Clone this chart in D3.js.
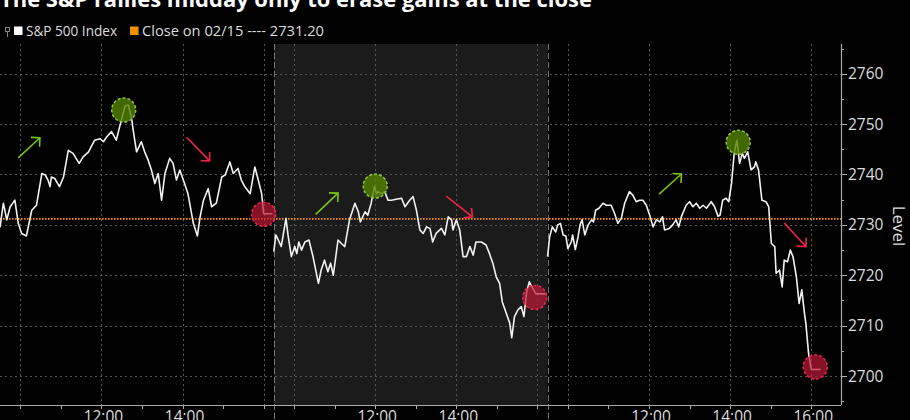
<!DOCTYPE html>
<html>
<head>
<meta charset="utf-8">
<script src="https://cdn.jsdelivr.net/npm/d3@7"></script>
<style>
  html, body { margin: 0; padding: 0; background: #000; }
  svg { display: block; }
  text { font-family: "Open Sans", "DejaVu Sans", sans-serif; }
</style>
</head>
<body>
<div id="chart"></div>
<script>
// ---------------- DATA ----------------
const title = "The S&P rallies midday only to erase gains at the close";
const legendLabels = ["S&P 500 Index", "Close on 02/15 ---- 2731.20"];
const prevClose = 2731.20;

// minutes since 09:30 open, for each trading session
const day1Minutes = [0,5,10,15,22,27,32,39,47,54,62,67,71,74,76,81,88,94,101,108,117,123,131,140,148,153,158,165,172,177,185,190,195,197,202,209,214,219,224,229,234,239,244,251,256,261,266,273,278,286,292,296,301,308,313,320,328,333,340,345,352,357,362,370,377,382,387,390,403];
const day1Values  = [2729.5,2734.3,2731.0,2733.6,2734.9,2730.3,2728.3,2727.8,2732.9,2733.9,2740.2,2739.9,2738.9,2737.6,2739.5,2739.2,2737.6,2739.5,2744.8,2744.2,2742.2,2743.5,2744.5,2746.8,2747.1,2746.5,2747.5,2748.5,2746.8,2749.5,2753.6,2753.8,2750.8,2748.8,2744.5,2746.5,2744.5,2742.9,2740.9,2738.2,2740.2,2734.9,2740.2,2743.2,2742.2,2738.9,2740.9,2738.2,2736.2,2730.3,2727.8,2731.6,2734.9,2737.2,2733.6,2734.3,2739.5,2739.9,2742.5,2740.2,2741.2,2738.9,2737.6,2736.2,2741.5,2738.9,2736.2,2732.2,2732.2];

const day2Minutes = [0,3,8,11,18,21,26,31,34,37,41,46,52,58,66,70,75,80,84,88,95,100,105,112,120,125,128,135,139,144,149,152,154,159,164,169,174,181,189,194,201,206,211,216,221,226,231,235,240,248,253,258,263,265,270,275,280,285,290,295,299,307,314,319,324,329,334,338,344,349,352,356,361,366,370,374,378,383,388,390,402];
const day2Values  = [2724.7,2728.0,2726.6,2725.7,2731.3,2728.0,2723.7,2725.7,2724.3,2726.6,2725.0,2726.6,2727.0,2723.7,2718.4,2721.0,2723.0,2720.7,2722.4,2720.0,2727.0,2726.3,2725.7,2731.0,2734.3,2732.6,2730.6,2732.6,2731.9,2734.3,2737.6,2736.2,2736.6,2736.2,2736.6,2734.9,2734.9,2735.1,2735.3,2733.6,2734.9,2735.6,2732.9,2729.0,2728.3,2729.6,2729.3,2726.6,2728.3,2729.3,2728.0,2731.6,2731.0,2729.0,2731.0,2729.0,2723.7,2723.7,2725.7,2724.0,2726.6,2726.6,2726.0,2724.3,2722.4,2719.7,2718.4,2714.7,2712.4,2710.5,2707.6,2711.8,2713.1,2713.8,2711.8,2716.7,2718.7,2717.4,2716.3,2716.3,2716.3];

const day3Minutes = [0,3,7,12,15,19,23,27,30,35,37,41,45,48,51,55,60,65,68,71,76,82,87,94,99,104,109,114,121,126,131,136,141,146,151,156,161,166,170,173,180,185,190,194,198,205,210,215,220,225,230,235,242,247,252,255,259,264,268,272,276,280,284,288,291,296,301,306,308,312,317,323,327,331,336,338,343,347,350,355,359,363,368,372,376,380,382,386,390,404];
const day3Values  = [2723.7,2727.6,2729.6,2728.6,2730.0,2730.3,2728.0,2727.8,2725.3,2726.6,2728.0,2725.1,2727.6,2730.0,2731.0,2728.0,2730.0,2731.0,2730.6,2732.9,2733.3,2734.3,2733.9,2733.9,2732.3,2730.3,2731.3,2734.3,2736.6,2735.9,2734.6,2734.9,2734.9,2733.9,2731.9,2729.6,2731.0,2730.6,2731.6,2729.0,2729.3,2730.0,2731.0,2729.6,2731.7,2733.9,2734.6,2733.6,2734.3,2733.3,2733.9,2733.3,2734.6,2733.6,2731.7,2731.9,2734.9,2735.3,2734.6,2738.2,2744.2,2746.8,2742.2,2744.2,2743.2,2744.5,2740.9,2741.5,2742.5,2740.9,2734.9,2734.6,2733.6,2726.3,2725.7,2720.4,2721.0,2717.7,2723.0,2722.7,2725.0,2723.7,2719.7,2714.4,2717.1,2712.4,2710.5,2704.5,2701.3,2701.3];

const yTicks = [2700,2710,2720,2730,2740,2750,2760];
const yMinorTicks = [2695,2705,2715,2725,2735,2745,2755,2765];
// hour ticks (minutes after 09:30) and labels per session
const hourTickMinutes = [30,90,150,210,270,330,390];
const gridMinutes = [30,150,270,390];
const xLabelDays = [0,0,1,1,2,2,2];
const xLabelMinutes = [150,270,150,270,150,270,390];
const xLabelTexts = ["12:00","14:00","12:00","14:00","12:00","14:00","16:00"];

// annotation markers: session index, minute, level
const peakDays = [0,1,2], peakMinutes = [183,150,282], peakLevels = [2752.8,2737.7,2746.4];
const closeDays = [0,1,2], closeMinutes = [390,386,396], closeLevels = [2732.1,2715.6,2701.8];
// arrows: axis minutes (session offset included) and levels, start -> end
const upArrowX0 = [27,467,975], upArrowY0 = [2743.3,2732.1,2736.1];
const upArrowX1 = [59,500,1008], upArrowY1 = [2747.3,2736.3,2740.1];
const downArrowX0 = [276,660,1160], downArrowY0 = [2747.4,2735.7,2730.4];
const downArrowX1 = [310,699,1192], downArrowY1 = [2742.7,2731.6,2725.7];

// ---------------- CHART ----------------
const W = 910, H = 420;
const SESSION = 405; // minutes per session slot on axis
const plot = {left: 0, right: 841, top: 44, bottom: 405};

const svg = d3.select("#chart").append("svg").attr("width", W).attr("height", H)
  .style("background", "#000");

const x = d3.scaleLinear().domain([0, 1244]).range([plot.left, plot.right]);
const y = d3.scaleLinear().domain([2694.25, 2765.9]).range([plot.bottom, plot.top]);

// shaded middle session
svg.append("rect")
  .attr("x", x(SESSION)).attr("y", plot.top)
  .attr("width", x(2 * SESSION) - x(SESSION)).attr("height", plot.bottom - plot.top)
  .attr("fill", "#1b1b1b");

// horizontal grid
svg.append("g").selectAll("line").data(yTicks).join("line")
  .attr("x1", plot.left).attr("x2", plot.right)
  .attr("y1", d => Math.round(y(d)) + 0.5).attr("y2", d => Math.round(y(d)) + 0.5)
  .attr("stroke", "#555").attr("stroke-width", 1).attr("stroke-dasharray", "2,3");

// vertical grid
const gridPos = [];
[0,1,2].forEach(dd => gridMinutes.forEach(m => gridPos.push(dd * SESSION + m)));
svg.append("g").selectAll("line").data(gridPos).join("line")
  .attr("x1", d => Math.round(x(d)) + 0.5).attr("x2", d => Math.round(x(d)) + 0.5)
  .attr("y1", plot.top).attr("y2", plot.bottom)
  .attr("stroke", "#555").attr("stroke-width", 1).attr("stroke-dasharray", "2,3");

// session boundaries
svg.append("g").selectAll("line").data([SESSION, 2 * SESSION]).join("line")
  .attr("x1", d => Math.round(x(d)) + 0.5).attr("x2", d => Math.round(x(d)) + 0.5)
  .attr("y1", plot.top).attr("y2", H)
  .attr("stroke", "#777").attr("stroke-width", 1).attr("stroke-dasharray", "6,3");

// previous close line
svg.append("line")
  .attr("x1", plot.left).attr("x2", plot.right)
  .attr("y1", y(prevClose)).attr("y2", y(prevClose))
  .attr("stroke", "#f39200").attr("stroke-width", 1.6).attr("stroke-dasharray", "1.6,1.4");

// price line per session
const line = d3.line().x(d => x(d.t)).y(d => y(d.v));
const sessions = [[day1Minutes, day1Values], [day2Minutes, day2Values], [day3Minutes, day3Values]];
sessions.forEach(([ms, vs], i) => {
  const pts = ms.map((m, k) => ({t: i * SESSION + m, v: vs[k]}));
  svg.append("path").datum(pts).attr("d", line)
    .attr("fill", "none").attr("stroke", "#f2f2f2").attr("stroke-width", 1.6)
    .attr("stroke-linejoin", "round");
});

// circles
function circles(days, mins, lvls, fill, stroke) {
  svg.append("g").selectAll("circle").data(days).join("circle")
    .attr("cx", (d, i) => x(d * SESSION + mins[i]))
    .attr("cy", (d, i) => y(lvls[i]))
    .attr("r", 12)
    .attr("fill", fill).attr("stroke", stroke).attr("stroke-width", 1.5)
    .attr("stroke-dasharray", "3,2");
}
circles(peakDays, peakMinutes, peakLevels, "rgba(85,130,0,0.8)", "#8cc63f");
circles(closeDays, closeMinutes, closeLevels, "rgba(190,25,55,0.7)", "#e8254b");

// arrows
function arrows(x0s, y0s, x1s, y1s, color) {
  const g = svg.append("g");
  x0s.forEach((_, i) => {
    const ax = x(x0s[i]), ay = y(y0s[i]), bx = x(x1s[i]), by = y(y1s[i]);
    const th = Math.atan2(by - ay, bx - ax);
    const L = 9;
    const p1 = [bx - L * Math.cos(th - Math.PI / 4), by - L * Math.sin(th - Math.PI / 4)];
    const p2 = [bx - L * Math.cos(th + Math.PI / 4), by - L * Math.sin(th + Math.PI / 4)];
    g.append("line").attr("x1", ax).attr("y1", ay).attr("x2", bx).attr("y2", by)
      .attr("stroke", color).attr("stroke-width", 1.6);
    g.append("path").attr("d", `M${p1[0]},${p1[1]}L${bx},${by}L${p2[0]},${p2[1]}`)
      .attr("fill", "none").attr("stroke", color).attr("stroke-width", 1.6);
  });
}
arrows(upArrowX0, upArrowY0, upArrowX1, upArrowY1, "#7cc414");
arrows(downArrowX0, downArrowY0, downArrowX1, downArrowY1, "#ec2448");

// x axis line + ticks
svg.append("line").attr("x1", plot.left).attr("x2", plot.right)
  .attr("y1", plot.bottom + 0.5).attr("y2", plot.bottom + 0.5)
  .attr("stroke", "#aaa").attr("stroke-width", 1.2);
const hourPos = [];
[0,1,2].forEach(dd => hourTickMinutes.forEach(m => hourPos.push(dd * SESSION + m)));
svg.append("g").selectAll("line").data(hourPos).join("line")
  .attr("x1", d => Math.round(x(d)) + 0.5).attr("x2", d => Math.round(x(d)) + 0.5)
  .attr("y1", plot.bottom).attr("y2", plot.bottom + 4)
  .attr("stroke", "#aaa").attr("stroke-width", 1);
svg.append("g").selectAll("text").data(xLabelTexts).join("text")
  .attr("x", (d, i) => x(xLabelDays[i] * SESSION + xLabelMinutes[i]) + 2)
  .attr("y", 421.5)
  .attr("text-anchor", "middle").attr("fill", "#ddd").attr("font-size", 15.5)
  .text(d => d);

// y axis on right
svg.append("line").attr("x1", plot.right + 0.5).attr("x2", plot.right + 0.5)
  .attr("y1", plot.top).attr("y2", plot.bottom)
  .attr("stroke", "#aaa").attr("stroke-width", 1.2);
svg.append("g").selectAll("line").data(yTicks).join("line")
  .attr("x1", plot.right).attr("x2", plot.right + 6)
  .attr("y1", d => Math.round(y(d)) + 0.5).attr("y2", d => Math.round(y(d)) + 0.5)
  .attr("stroke", "#aaa");
svg.append("g").selectAll("line").data(yMinorTicks).join("line")
  .attr("x1", plot.right).attr("x2", plot.right + 3)
  .attr("y1", d => Math.round(y(d)) + 0.5).attr("y2", d => Math.round(y(d)) + 0.5)
  .attr("stroke", "#aaa");
svg.append("g").selectAll("text").data(yTicks).join("text")
  .attr("x", plot.right + 7).attr("y", d => y(d))
  .attr("dy", "0.36em")
  .attr("fill", "#ddd").attr("font-size", 15.5)
  .text(d => d);
svg.append("text")
  .attr("transform", `translate(893,226) rotate(90)`)
  .attr("text-anchor", "middle").attr("fill", "#ddd").attr("font-size", 17)
  .text("Level");

// title (clipped at top)
svg.append("text").attr("x", 0).attr("y", 7)
  .attr("fill", "#fff").attr("font-weight", "bold").attr("font-size", 22)
  .attr("textLength", 592).attr("lengthAdjust", "spacingAndGlyphs")
  .text(title);

// legend
svg.append("rect").attr("x", 5.5).attr("y", 27.5).attr("width", 4).attr("height", 4)
  .attr("fill", "none").attr("stroke", "#888");
svg.append("line").attr("x1", 7.5).attr("x2", 7.5).attr("y1", 31.5).attr("y2", 37)
  .attr("stroke", "#888");
svg.append("rect").attr("x", 14).attr("y", 26.5).attr("width", 8.5).attr("height", 8.5).attr("fill", "#fff");
svg.append("text").attr("x", 26).attr("y", 35.5).attr("fill", "#ddd").attr("font-size", 13.8)
  .attr("textLength", 91).attr("lengthAdjust", "spacingAndGlyphs")
  .text(legendLabels[0]);
svg.append("rect").attr("x", 130).attr("y", 26.5).attr("width", 8.5).attr("height", 8.5).attr("fill", "#f39200");
svg.append("text").attr("x", 142).attr("y", 35.5).attr("fill", "#ddd").attr("font-size", 13.8)
  .attr("textLength", 182).attr("lengthAdjust", "spacingAndGlyphs")
  .text(legendLabels[1]);
</script>
</body>
</html>
